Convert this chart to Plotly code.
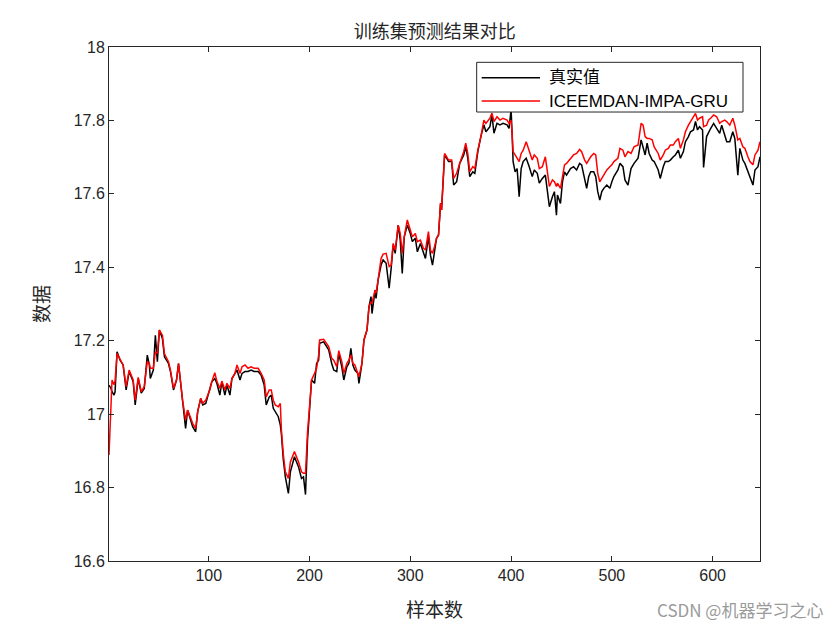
import plotly.graph_objects as go

idx = [1, 3, 4, 6, 7, 9, 12, 15, 18, 21, 25, 27, 30, 33, 36, 39, 41, 42, 45, 47, 49, 51, 54, 56, 60, 62, 65, 68, 70,
       72, 74, 77, 79, 82, 84, 87, 89, 92, 94, 97, 101, 103, 106, 108, 111, 113, 116, 118, 121, 123, 126, 128, 131,
       133, 136, 139, 142, 145, 149, 152, 155, 157, 160, 162, 164, 166, 169, 171, 172, 174, 176, 179, 181, 185, 189,
       192, 194, 196, 198, 200, 202, 205, 207, 209, 210, 214, 217, 219, 222, 224, 227, 229, 232, 234, 237, 239, 241,
       243, 245, 248, 249, 252, 254, 257, 259, 261, 262, 265, 266, 268, 271, 273, 276, 279, 281, 283, 285, 288, 290,
       292, 294, 297, 300, 302, 305, 307, 310, 313, 315, 318, 320, 322, 324, 326, 328, 330, 331, 334, 338, 341, 343,
       346, 349, 353, 355, 357, 359, 362, 364, 367, 370, 373, 375, 379, 381, 383, 386, 389, 392, 396, 398, 400, 401,
       402, 404, 406, 408, 410, 412, 415, 418, 421, 423, 426, 428, 431, 434, 436, 438, 441, 443, 445, 446, 449, 451,
       453, 455, 459, 462, 465, 468, 470, 473, 475, 477, 479, 482, 484, 486, 488, 490, 492, 495, 498, 500, 502, 506,
       508, 511, 513, 516, 519, 522, 526, 529, 531, 533, 535, 537, 540, 542, 546, 548, 551, 553, 556, 558, 561, 563,
       566, 568, 571, 573, 576, 578, 581, 583, 585, 587, 590, 591, 594, 596, 598, 601, 604, 607, 609, 612, 614, 617,
       620, 622, 625, 627, 630, 632, 635, 637, 640, 642, 645, 647]

actual = [17.079, 17.070, 17.061, 17.052, 17.060, 17.170, 17.147, 17.134, 17.066, 17.116, 17.088, 17.025, 17.097,
          17.057, 17.070, 17.161, 17.134, 17.097, 17.120, 17.215, 17.143, 17.229, 17.206, 17.156, 17.138, 17.116,
          17.066, 17.093, 17.138, 17.084, 17.034, 16.961, 17.011, 16.984, 16.966, 16.952, 17.007, 17.043, 17.025,
          17.029, 17.066, 17.088, 17.097, 17.084, 17.052, 17.088, 17.052, 17.079, 17.052, 17.097, 17.111, 17.120,
          17.093, 17.111, 17.116, 17.116, 17.120, 17.116, 17.116, 17.106, 17.079, 17.025, 17.047, 17.052, 17.016,
          17.007, 16.993, 16.970, 16.948, 16.875, 16.829, 16.784, 16.843, 16.884, 16.857, 16.825, 16.829, 16.781,
          16.930, 17.011, 17.093, 17.084, 17.138, 17.147, 17.193, 17.197, 17.184, 17.175, 17.138, 17.120, 17.116,
          17.165, 17.129, 17.093, 17.129, 17.138, 17.179, 17.134, 17.120, 17.111, 17.084, 17.138, 17.202, 17.229,
          17.293, 17.320, 17.274, 17.338, 17.315, 17.365, 17.406, 17.420, 17.411, 17.343, 17.397, 17.461, 17.438,
          17.515, 17.474, 17.383, 17.483, 17.515, 17.492, 17.470, 17.479, 17.442, 17.465, 17.438, 17.424, 17.483,
          17.433, 17.406, 17.442, 17.479, 17.488, 17.574, 17.556, 17.706, 17.688, 17.688, 17.624, 17.633, 17.683,
          17.706, 17.729, 17.697, 17.647, 17.660, 17.656, 17.715, 17.756, 17.788, 17.769, 17.783, 17.815, 17.765,
          17.792, 17.788, 17.792, 17.788, 17.778, 17.830, 17.765, 17.688, 17.660, 17.669, 17.592, 17.669, 17.688,
          17.697, 17.674, 17.647, 17.665, 17.656, 17.629, 17.642, 17.651, 17.606, 17.565, 17.592, 17.606, 17.542,
          17.597, 17.574, 17.633, 17.660, 17.651, 17.669, 17.674, 17.665, 17.683, 17.679, 17.638, 17.615, 17.647,
          17.660, 17.660, 17.647, 17.606, 17.583, 17.606, 17.615, 17.624, 17.615, 17.633, 17.647, 17.665, 17.683,
          17.674, 17.638, 17.624, 17.669, 17.683, 17.697, 17.747, 17.724, 17.706, 17.738, 17.710, 17.692, 17.688,
          17.665, 17.642, 17.674, 17.688, 17.688, 17.692, 17.701, 17.706, 17.719, 17.697, 17.715, 17.742, 17.756,
          17.769, 17.774, 17.797, 17.774, 17.783, 17.774, 17.672, 17.756, 17.769, 17.778, 17.792, 17.778, 17.765,
          17.787, 17.756, 17.742, 17.742, 17.769, 17.751, 17.651, 17.724, 17.692, 17.683, 17.660, 17.642, 17.624,
          17.665, 17.674, 17.701]

predicted = [16.889, 17.070, 17.093, 17.080, 17.090, 17.165, 17.150, 17.134, 17.075, 17.120, 17.093, 17.038,
             17.100, 17.061, 17.075, 17.143, 17.138, 17.125, 17.125, 17.170, 17.165, 17.229, 17.215, 17.165, 17.143,
             17.120, 17.070, 17.093, 17.138, 17.088, 17.038, 16.984, 17.011, 16.990, 16.975, 16.961, 17.007, 17.043,
             17.030, 17.038, 17.066, 17.088, 17.113, 17.090, 17.070, 17.090, 17.066, 17.084, 17.070, 17.097, 17.111,
             17.134, 17.111, 17.129, 17.134, 17.125, 17.129, 17.125, 17.125, 17.111, 17.093, 17.047, 17.066, 17.066,
             17.038, 17.025, 17.020, 17.029, 16.960, 16.890, 16.843, 16.825, 16.870, 16.898, 16.870, 16.843, 16.839,
             16.839, 16.950, 17.020, 17.093, 17.111, 17.125, 17.160, 17.202, 17.204, 17.193, 17.184, 17.152, 17.147,
             17.129, 17.173, 17.143, 17.111, 17.138, 17.147, 17.161, 17.138, 17.134, 17.111, 17.102, 17.138, 17.202,
             17.229, 17.293, 17.306, 17.302, 17.338, 17.330, 17.365, 17.424, 17.436, 17.438, 17.402, 17.406, 17.465,
             17.447, 17.515, 17.492, 17.438, 17.483, 17.529, 17.501, 17.483, 17.492, 17.470, 17.474, 17.452, 17.447,
             17.497, 17.447, 17.438, 17.456, 17.479, 17.488, 17.574, 17.556, 17.710, 17.692, 17.692, 17.642, 17.656,
             17.683, 17.715, 17.738, 17.710, 17.660, 17.674, 17.669, 17.719, 17.756, 17.801, 17.792, 17.806, 17.820,
             17.797, 17.810, 17.801, 17.806, 17.801, 17.792, 17.800, 17.765, 17.715, 17.706, 17.697, 17.688, 17.710,
             17.719, 17.742, 17.715, 17.692, 17.706, 17.697, 17.669, 17.674, 17.701, 17.660, 17.620, 17.638, 17.633,
             17.620, 17.629, 17.615, 17.651, 17.679, 17.683, 17.697, 17.706, 17.710, 17.721, 17.715, 17.692, 17.683,
             17.692, 17.701, 17.710, 17.706, 17.656, 17.633, 17.642, 17.651, 17.665, 17.674, 17.679, 17.688, 17.697,
             17.724, 17.719, 17.701, 17.715, 17.710, 17.728, 17.733, 17.792, 17.787, 17.756, 17.751, 17.751, 17.747,
             17.728, 17.710, 17.692, 17.706, 17.719, 17.724, 17.733, 17.733, 17.742, 17.751, 17.724, 17.747, 17.769,
             17.787, 17.797, 17.810, 17.819, 17.801, 17.806, 17.810, 17.783, 17.787, 17.801, 17.806, 17.815, 17.810,
             17.792, 17.797, 17.801, 17.797, 17.787, 17.806, 17.787, 17.747, 17.751, 17.728, 17.724, 17.701, 17.688,
             17.679, 17.706, 17.719, 17.742]

series_names = ["真实值", "ICEEMDAN-IMPA-GRU"]
series_colors = ["black", "red"]

x_ticks = [100, 200, 300, 400, 500, 600]
y_ticks = [16.6, 16.8, 17.0, 17.2, 17.4, 17.6, 17.8, 18.0]
y_tick_text = ["16.6", "16.8", "17", "17.2", "17.4", "17.6", "17.8", "18"]

CJK = "Noto Sans CJK SC"
LAT = "Liberation Sans, Arial, sans-serif"

fig = go.Figure()
for vals, name, col in zip([actual, predicted], series_names, series_colors):
    fig.add_trace(go.Scatter(x=idx, y=vals, mode="lines", name=name,
                             line=dict(color=col, width=1.5), showlegend=False))

axis_common = dict(showline=True, linecolor="#262626", linewidth=1, mirror="ticks",
                   ticks="inside", ticklen=5, tickcolor="#262626", showgrid=False, zeroline=False,
                   tickfont=dict(family=LAT, size=16, color="#262626"))

fig.update_layout(
    width=840, height=630,
    margin=dict(l=109, r=80, t=47, b=69),
    paper_bgcolor="white", plot_bgcolor="white",
    title=dict(text="训练集预测结果对比", x=0.5175, xanchor="center", y=0.949, yanchor="middle",
               font=dict(family=CJK, size=18, color="#262626")),
    xaxis=dict(range=[1, 647], tickvals=x_ticks, **axis_common,
               title=dict(text="样本数", font=dict(family=CJK, size=19, color="#262626"), standoff=20)),
    yaxis=dict(range=[16.6, 18.0], tickvals=y_ticks, ticktext=y_tick_text, **axis_common,
               title=dict(text="数据", font=dict(family=CJK, size=19, color="#262626"), standoff=19)),
    showlegend=False,
)

# legend box drawn in MATLAB style (long line samples)
fig.add_shape(type="rect", xref="paper", yref="paper", x0=0.5648, x1=0.9739, y0=0.8735, y1=0.9702,
              line=dict(color="#262626", width=1), fillcolor="white", layer="above")
leg_y = [0.9403, 0.8949]
for name, col, yy in zip(series_names, series_colors, leg_y):
    fig.add_shape(type="line", xref="paper", yref="paper", x0=0.5725, x1=0.6621, y0=yy, y1=yy,
                  line=dict(color=col, width=1.5), layer="above")
    fig.add_annotation(text=name, xref="paper", yref="paper", x=0.6728, y=yy, xanchor="left",
                       yanchor="middle", showarrow=False,
                       font=dict(family=LAT + ", " + CJK, size=17, color="black"))

fig.add_annotation(text="CSDN @机器学习之心", xref="paper", yref="paper", x=1.0998, y=-0.0953,
                   xanchor="right", yanchor="middle", showarrow=False,
                   font=dict(family=CJK, size=17, color="#9a9a9a"))

fig.write_html("out.html")
